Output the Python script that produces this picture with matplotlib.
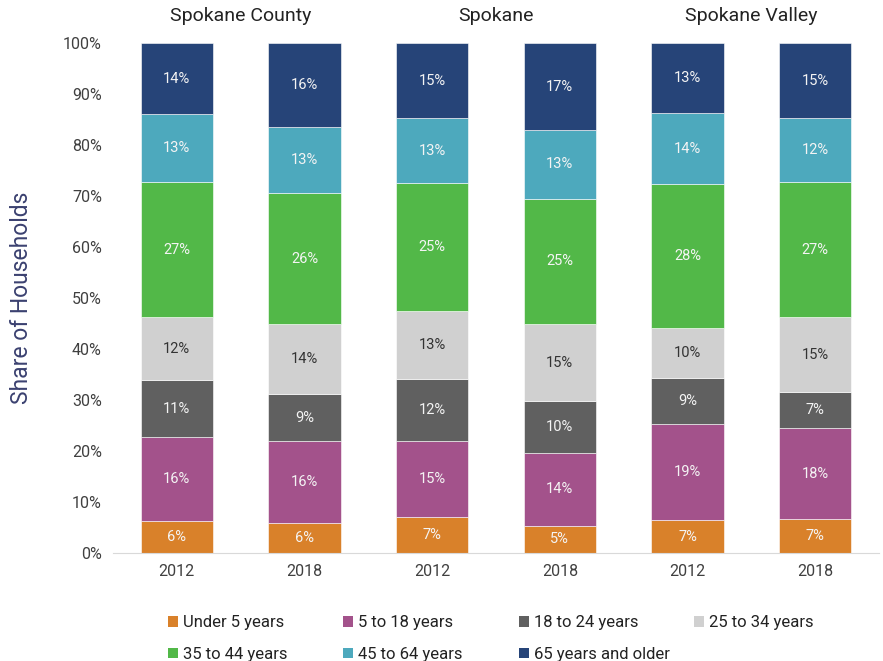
import matplotlib
matplotlib.use("Agg")
import matplotlib.pyplot as plt
import numpy as np
from matplotlib.patches import Patch

plt.rcParams['font.family'] = ['Roboto', 'DejaVu Sans']

groups = ["Spokane County", "Spokane", "Spokane Valley"]
years = ["2012", "2018", "2012", "2018", "2012", "2018"]
categories = ["Under 5 years", "5 to 18 years", "18 to 24 years", "25 to 34 years",
              "35 to 44 years", "45 to 64 years", "65 years and older"]
under5 = [6.3, 5.8, 7.0, 5.3, 6.4, 6.6]
age5_18 = [16.4, 16.1, 15.0, 14.4, 18.8, 17.9]
age18_24 = [11.2, 9.3, 12.1, 10.1, 9.1, 7.0]
age25_34 = [12.3, 13.7, 13.4, 15.1, 9.9, 14.7]
age35_44 = [26.6, 25.6, 25.0, 24.6, 28.1, 26.6]
age45_64 = [13.2, 13.0, 12.7, 13.4, 14.0, 12.4]
age65 = [14.0, 16.5, 14.8, 17.1, 13.7, 14.8]
labels = [
    [6, 6, 7, 5, 7, 7],
    [16, 16, 15, 14, 19, 18],
    [11, 9, 12, 10, 9, 7],
    [12, 14, 13, 15, 10, 15],
    [27, 26, 25, 25, 28, 27],
    [13, 13, 13, 13, 14, 12],
    [14, 16, 15, 17, 13, 15],
]
series = [under5, age5_18, age18_24, age25_34, age35_44, age45_64, age65]
colors = ["#D9812A", "#A3528B", "#606060", "#D0D0D0", "#52B848", "#4DA9BD", "#264478"]
text_colors = ["#F4F4F4", "#F4F4F4", "#F4F4F4", "#333333", "#F4F4F4", "#F4F4F4", "#F4F4F4"]

fig = plt.figure(figsize=(8.83, 6.61), dpi=100)
ax = fig.add_axes([113/883, 1-553/661, (879-113)/883, (553-43)/661])

x = np.arange(len(years))
bottom = np.zeros(len(years))
for vals, col, tc, labs in zip(series, colors, text_colors, labels):
    vals = np.array(vals)
    ax.bar(x, vals, 0.565, bottom=bottom, color=col, edgecolor='white', linewidth=0.4)
    for xi, b, v, l in zip(x, bottom, vals, labs):
        ax.text(xi, b + v/2, f"{l}%", ha='center', va='center', color=tc,
                fontsize=10.5)
    bottom += vals

ax.set_xlim(-0.5, len(years)-0.5)
ax.set_ylim(0, 100)
ax.set_xticks(x)
ax.set_xticklabels(years, fontsize=11.5, color='#404040')
ax.set_yticks(np.arange(0, 101, 10))
ax.set_yticklabels([f"{v}%" for v in range(0, 101, 10)], fontsize=11.5, color='#404040')
ax.tick_params(axis='both', length=0, pad=8)
for s in ['top', 'right', 'left']:
    ax.spines[s].set_visible(False)
ax.spines['bottom'].set_color('#D9D9D9')
ax.set_ylabel("Share of Households", fontsize=16.5, color='#3B4170')
ax.yaxis.set_label_coords(-80/766, 0.5)

for i, g in enumerate(groups):
    ax.text(2*i + 0.5, 103.5, g, ha='center', va='bottom', fontsize=14, color='#222222')

handles = [Patch(facecolor=c, label=l) for c, l in zip(colors, categories)]
col_x = [160, 335, 511, 686]
columns = [[0, 4], [1, 5], [2, 6], [3]]
for cx, idxs in zip(col_x, columns):
    fig.legend([handles[i] for i in idxs], [categories[i] for i in idxs],
               loc='upper left', bbox_to_anchor=(cx/883, 1-607/661), frameon=False,
               fontsize=12, handlelength=0.6, handleheight=0.6, handletextpad=0.3,
               labelspacing=1.0, labelcolor='#222222', borderpad=0)

fig.savefig("out.png", dpi=100)
